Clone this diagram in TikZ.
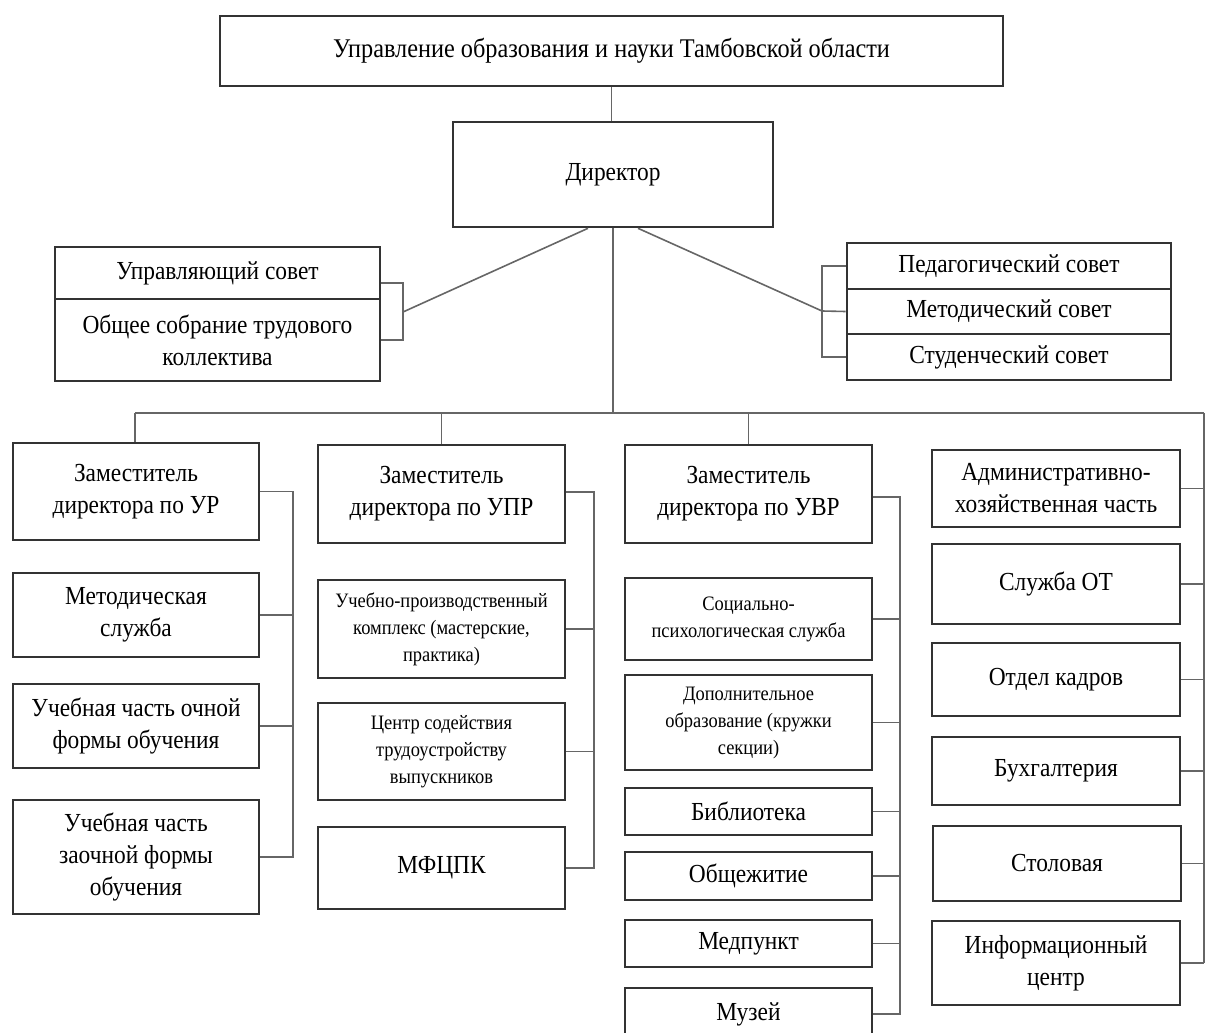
\documentclass[tikz,border=0pt]{standalone}
\usepackage{fontspec}
\setmainfont[FakeStretch=0.90]{Liberation Serif}
\begin{document}
\begin{tikzpicture}[x=1pt,y=-1pt,
  box/.style={draw=black!80, line width=2.6pt, fill=white, align=center, inner sep=2pt,
    font=\fontsize{26}{32}\selectfont},
  sbox/.style={box, font=\fontsize{20.5}{27}\selectfont},
  conn/.style={draw=black!60, line width=1.6pt}]
\useasboundingbox (0,0) rectangle (1205,1033);
\clip (0,0) rectangle (1205,1033);

% top
\node[box, minimum width=783pt, minimum height=70pt, font=\fontsize{27}{32}\selectfont] (top) at (611.5,51) {Управление образования и науки Тамбовской области};
\node[box, minimum width=320pt, minimum height=105pt] (dir) at (613,174.5) {Директор};

% left pair
\node[box, minimum width=325pt, minimum height=52pt] (upr) at (217.5,273) {Управляющий совет};
\node[box, minimum width=325pt, minimum height=82pt] (obsh) at (217.5,340) {Общее собрание трудового\\коллектива};

% right triple
\node[box, minimum width=324pt, minimum height=46pt] (ped) at (1009,266) {Педагогический совет};
\node[box, minimum width=324pt, minimum height=45pt] (met) at (1009,311.5) {Методический совет};
\node[box, minimum width=324pt, minimum height=46pt] (stud) at (1009,357) {Студенческий совет};

% column 1
\node[box, minimum width=246pt, minimum height=97pt] (zur) at (136,491.5) {Заместитель\\директора по УР};
\node[box, minimum width=246pt, minimum height=84pt] (msl) at (136,615) {Методическая\\служба};
\node[box, minimum width=246pt, minimum height=84pt] (och) at (136,726) {Учебная часть очной\\формы обучения};
\node[box, minimum width=246pt, minimum height=114pt] (zaoch) at (136,857) {Учебная часть\\заочной формы\\обучения};

% column 2
\node[box, minimum width=247pt, minimum height=98pt] (zupr) at (441.5,494) {Заместитель\\директора по УПР};
\node[sbox, minimum width=247pt, minimum height=98pt] (upk) at (441.5,629) {Учебно-производственный\\комплекс (мастерские,\\практика)};
\node[sbox, minimum width=247pt, minimum height=97pt] (csod) at (441.5,751.5) {Центр содействия\\трудоустройству\\выпускников};
\node[box, minimum width=247pt, minimum height=82pt] (mfc) at (441.5,868) {МФЦПК};

% column 3
\node[box, minimum width=247pt, minimum height=98pt] (zuvr) at (748.5,494) {Заместитель\\директора по УВР};
\node[sbox, minimum width=247pt, minimum height=82pt] (soc) at (748.5,619) {Социально-\\психологическая служба};
\node[sbox, minimum width=247pt, minimum height=95pt] (dop) at (748.5,722.5) {Дополнительное\\образование (кружки\\секции)};
\node[box, minimum width=247pt, minimum height=47pt] (bib) at (748.5,811.5) {Библиотека};
\node[box, minimum width=247pt, minimum height=48pt] (obj) at (748.5,876) {Общежитие};
\node[box, minimum width=247pt, minimum height=47pt] (med) at (748.5,943.5) {Медпункт};
\node[box, minimum width=247pt, minimum height=52pt] (muz) at (748.5,1014) {Музей};

% column 4
\node[box, minimum width=248pt, minimum height=77pt] (ahc) at (1056,488.5) {Административно-\\хозяйственная часть};
\node[box, minimum width=248pt, minimum height=80pt] (sot) at (1056,584) {Служба ОТ};
\node[box, minimum width=248pt, minimum height=73pt] (okd) at (1056,679.5) {Отдел кадров};
\node[box, minimum width=248pt, minimum height=68pt] (buh) at (1056,771) {Бухгалтерия};
\node[box, minimum width=248pt, minimum height=75pt] (stol) at (1057,863.5) {Столовая};
\node[box, minimum width=248pt, minimum height=84pt] (inf) at (1056,963) {Информационный\\центр};

% connectors: top part
\draw[conn] (top.south) -- (top.south |- dir.north);
\coordinate (busL) at (135,413);
\coordinate (busR) at (1204,413);
\draw[conn] (busL) -- (busR);
\draw[conn] (dir.south) -- (dir.south |- busL);

\coordinate (lbr) at (403,312);
\draw[conn] ([xshift=-25pt]dir.south) -- (lbr);
\draw[conn] ([yshift=-10pt]upr.east) -| (lbr) |- (obsh.east);

\coordinate (rbr) at (822,311);
\draw[conn] ([xshift=25pt]dir.south) -- (rbr);
\draw[conn] (ped.west) -| (rbr) |- (stud.west);
\draw[conn] (met.west) -- (rbr);

% drops from bus
\draw[conn] (busL) -- (zur.north -| busL);
\draw[conn] (zupr.north) -- (zupr.north |- busL);
\draw[conn] (zuvr.north) -- (zuvr.north |- busL);

% column 1 spine
\coordinate (s1) at (293,0);
\draw[conn] (zur.east) -| (s1 |- zaoch.east) -- (zaoch.east);
\draw[conn] (msl.east) -- (msl.east -| s1);
\draw[conn] (och.east) -- (och.east -| s1);

% column 2 spine
\coordinate (s2) at (594,0);
\draw[conn] ([yshift=2pt]zupr.east) -| (s2 |- mfc.east) -- (mfc.east);
\draw[conn] (upk.east) -- (upk.east -| s2);
\draw[conn] (csod.east) -- (csod.east -| s2);

% column 3 spine
\coordinate (s3) at (900,0);
\draw[conn] ([yshift=-3pt]zuvr.east) -| (s3 |- muz.east) -- (muz.east);
\draw[conn] (soc.east) -- (soc.east -| s3);
\draw[conn] (dop.east) -- (dop.east -| s3);
\draw[conn] (bib.east) -- (bib.east -| s3);
\draw[conn] (obj.east) -- (obj.east -| s3);
\draw[conn] (med.east) -- (med.east -| s3);

% column 4 spine (right edge)
\draw[conn] (busR) -- (busR |- inf.east);
\draw[conn] (ahc.east) -- (ahc.east -| busR);
\draw[conn] (sot.east) -- (sot.east -| busR);
\draw[conn] (okd.east) -- (okd.east -| busR);
\draw[conn] (buh.east) -- (buh.east -| busR);
\draw[conn] (stol.east) -- (stol.east -| busR);
\draw[conn] (inf.east) -- (inf.east -| busR);
\end{tikzpicture}
\end{document}
